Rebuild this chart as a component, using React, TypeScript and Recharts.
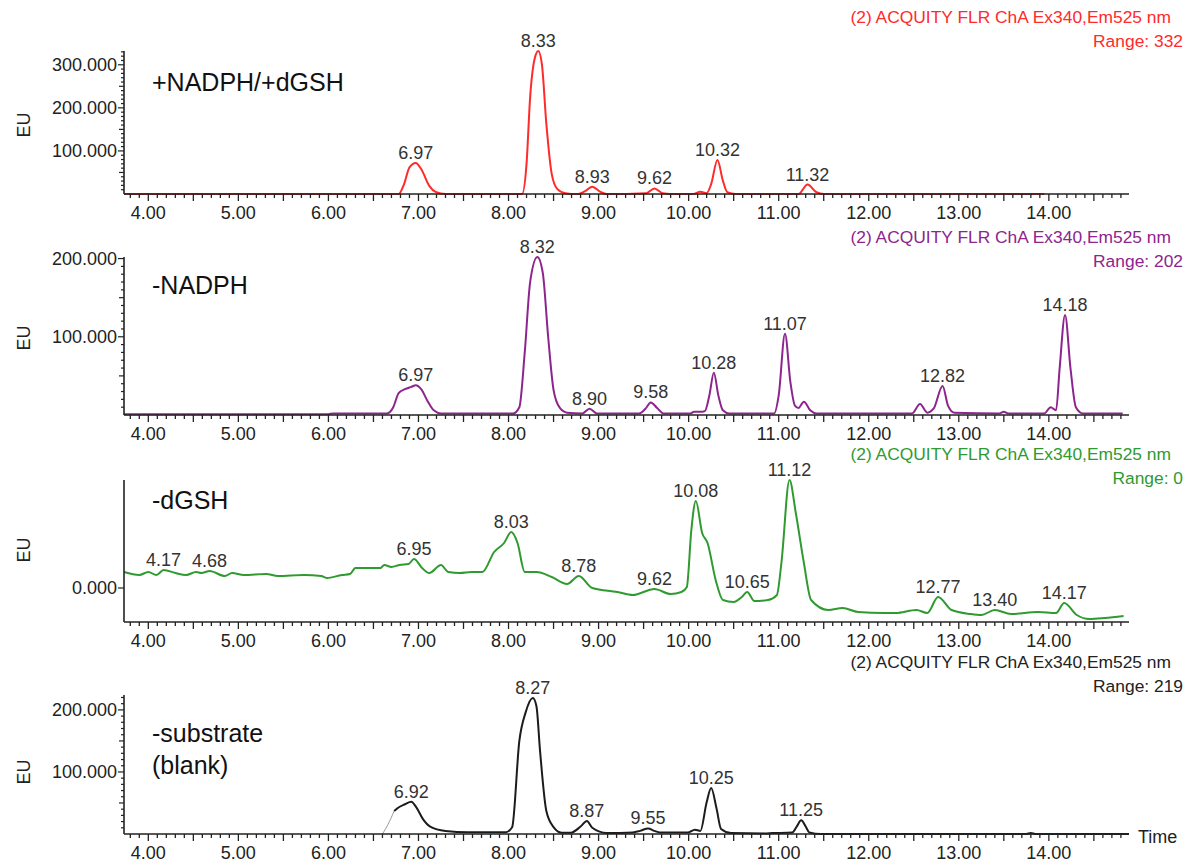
import { LineChart, Line, XAxis, YAxis, LabelList } from 'recharts'

const FONT = '"Liberation Sans", Arial, Helvetica, sans-serif'
const W = 1186
const H = 865

// shared time axis
const xDomain = [3.73, 14.89]
const xMajorTicks = [4, 5, 6, 7, 8, 9, 10, 11, 12, 13, 14]
const xTickLabels = ['4.00', '5.00', '6.00', '7.00', '8.00', '9.00', '10.00', '11.00', '12.00', '13.00', '14.00']

// +NADPH/+dGSH (red)
const redT = [3.73, 6.78, 6.84, 6.9, 6.97, 7.03, 7.12, 7.19, 7.3, 8.15, 8.2, 8.24, 8.29, 8.33, 8.37, 8.42, 8.48, 8.54, 8.63, 8.76, 8.86, 8.93, 9.02, 9.09, 9.53, 9.62, 9.71, 9.86, 10.05, 10.13, 10.2, 10.25, 10.32, 10.38, 10.43, 10.52, 11.22, 11.32, 11.42, 11.5, 13.95]
const redEU = [0, 0, 23, 62, 72, 58, 19, 5, 0, 0, 70, 225, 314, 332, 302, 163, 46, 12, 2, 0, 8, 17, 5, 0, 2, 13, 2, 0, 0, 5, 2, 23, 79, 31, 4, 0, 0, 22, 4, 0, 0]
const redPeaks = [6.97, 8.33, 8.93, 9.62, 10.32, 11.32]

// -NADPH (purple)
const purpleT = [3.73, 6.0, 6.05, 6.65, 6.72, 6.78, 6.85, 6.92, 6.97, 7.03, 7.1, 7.17, 7.25, 8.05, 8.12, 8.18, 8.24, 8.32, 8.38, 8.44, 8.5, 8.57, 8.65, 8.82, 8.9, 8.98, 9.45, 9.52, 9.58, 9.65, 9.72, 10.02, 10.06, 10.13, 10.18, 10.23, 10.28, 10.33, 10.38, 10.45, 10.95, 11.0, 11.07, 11.13, 11.18, 11.22, 11.28, 11.35, 11.42, 12.48, 12.57, 12.65, 12.72, 12.82, 12.88, 12.95, 13.45, 13.5, 13.55, 13.95, 14.02, 14.08, 14.12, 14.18, 14.24, 14.3, 14.38, 14.82]
const purpleEU = [1, 1, 2, 2, 10, 28, 33, 36, 38, 33, 18, 6, 2, 2, 10, 80, 170, 202, 182, 100, 32, 9, 3, 2, 8, 2, 2, 8, 16, 9, 2, 2, 4, 4, 5, 25, 54, 25, 6, 2, 2, 25, 104, 42, 12, 9, 17, 6, 2, 2, 14, 3, 8, 37, 12, 3, 2, 4, 2, 2, 10, 6, 60, 128, 60, 10, 2, 2]
const purplePeaks = [6.97, 8.32, 8.9, 9.58, 10.28, 11.07, 12.82, 14.18]

// -dGSH (green), range 0 -> arbitrary units
const greenT = [3.73, 3.9, 4.0, 4.09, 4.17, 4.3, 4.42, 4.53, 4.59, 4.68, 4.85, 4.93, 5.06, 5.31, 5.44, 5.73, 5.92, 5.98, 6.15, 6.24, 6.3, 6.58, 6.62, 6.7, 6.79, 6.89, 6.95, 7.04, 7.12, 7.25, 7.33, 7.46, 7.59, 7.71, 7.84, 7.95, 8.03, 8.1, 8.18, 8.31, 8.48, 8.65, 8.78, 8.93, 9.21, 9.38, 9.62, 9.8, 9.92, 9.98, 10.03, 10.08, 10.15, 10.21, 10.3, 10.38, 10.5, 10.59, 10.65, 10.73, 10.88, 10.98, 11.03, 11.12, 11.19, 11.28, 11.36, 11.55, 11.71, 11.88, 12.17, 12.3, 12.53, 12.65, 12.77, 12.92, 13.13, 13.25, 13.4, 13.58, 13.88, 14.08, 14.17, 14.31, 14.45, 14.62, 14.83]
const greenEU = [16, 13, 16, 13, 18, 15, 13, 16, 15, 17, 12, 15, 13, 14, 12, 13, 12, 10, 13, 14, 20, 20, 23, 21, 23, 24, 29, 20, 15, 23, 16, 15, 16, 16, 36, 45, 56, 45, 16, 16, 11, 4, 12, 0, -4, -7, -1, -6, -4, 1, 58, 87, 55, 45, 8, -12, -14, -9, -4, -13, -12, -7, 25, 108, 75, 25, -12, -22, -20, -24, -25, -25, -22, -25, -9, -22, -26, -27, -22, -26, -24, -25, -15, -27, -31, -30, -28]
const greenPeaks = [4.17, 4.68, 6.95, 8.03, 8.78, 9.62, 10.08, 10.65, 11.12, 12.77, 13.4, 14.17]

// -substrate (blank), black
const leadT = [6.6, 6.66]
const leadEU = [0, 15]
const blackT = [6.73, 6.77, 6.85, 6.92, 6.98, 7.05, 7.13, 7.3, 7.55, 7.97, 8.04, 8.12, 8.19, 8.27, 8.31, 8.35, 8.42, 8.5, 8.59, 8.69, 8.8, 8.87, 8.93, 9.09, 9.38, 9.46, 9.55, 9.62, 9.68, 9.99, 10.07, 10.13, 10.2, 10.25, 10.31, 10.36, 10.47, 10.84, 10.93, 11.15, 11.2, 11.25, 11.3, 11.34, 11.47, 13.75, 13.8, 13.85, 14.89]
const blackEU = [37, 42, 48, 52, 42, 24, 12, 5, 3, 3, 11, 150, 196, 219, 206, 134, 37, 11, 2, 2, 12, 21, 10, 1.5, 2.5, 5, 9, 5, 2.5, 2.5, 7, 5, 51, 74, 41, 8, 1.5, 1, 1.5, 2.5, 12, 22, 12, 2.5, 0, 0, 1.5, 0, 0]
const blackPeaks = [6.92, 8.27, 8.87, 9.55, 10.25, 11.25]

const yMajorEU = [100, 200, 300]
const yLabelsEU = ['100.000', '200.000', '300.000']

function steps(from: number, to: number, step: number) {
  const out: number[] = []
  for (let k = Math.round(from / step); k * step <= to + 1e-9; k++) out.push(+(k * step).toFixed(3))
  return out
}

const xTicks = steps(3.8, 14.8, 0.1)

const near = (a: number, b: number) => Math.abs(a - b) < 1e-6

function makeRows(ts: number[], vs: number[], peaks: number[]) {
  return ts.map((t, i) => ({
    t,
    v: vs[i],
    peak: peaks.some(p => near(p, t)) ? t.toFixed(2) : undefined,
  }))
}

const blackRows = [
  ...leadT.map((t, i) => ({ t, lead: leadEU[i] } as any)),
  ...makeRows(blackT, blackEU, blackPeaks).map((r, i) => ({ ...r, lead: i === 0 ? r.v : undefined })),
]

const XTick = (props: any) => {
  const { x, y, payload } = props
  const v = payload.value
  const major = near(v, Math.round(v))
  const half = near(v * 2, Math.round(v * 2))
  const idx = xMajorTicks.findIndex(m => near(m, v))
  return (
    <g>
      <line x1={x} x2={x} y1={y} y2={y + (half ? 7 : 4)} stroke="#222" strokeWidth={1.3} />
      {major && idx >= 0 && (
        <text x={x} y={y + 25} textAnchor="middle" fontSize={18} fill="#222" fontFamily={FONT}>
          {xTickLabels[idx]}
        </text>
      )}
    </g>
  )
}

const makeYTick = (majors: number[], labels: string[]) => (props: any) => {
  const { x, y, payload } = props
  const v = payload.value
  const idx = majors.findIndex(m => near(m, v))
  const len = idx >= 0 ? 6 : near(v % 50, 0) ? 5 : 3
  return (
    <g>
      <line x1={x - len} x2={x} y1={y} y2={y} stroke="#222" strokeWidth={1.2} />
      {idx >= 0 && (
        <text x={x - 7} y={y + 6} textAnchor="end" fontSize={18} fill="#222" fontFamily={FONT}>
          {labels[idx]}
        </text>
      )}
    </g>
  )
}

const PeakLabel = (props: any) => {
  const { x, y, value } = props
  if (!value) return null
  return (
    <text x={x} y={y - 4} textAnchor="middle" fontSize={18} fill="#333" fontFamily={FONT}>
      {value}
    </text>
  )
}

type PanelProps = {
  rows: any[]
  color: string
  plotTop: number
  plotBottom: number
  yDomain: [number, number]
  yTicks: number[]
  yMajor: number[]
  yLabels: string[]
  withLead?: boolean
}

function Panel({ rows, color, plotTop, plotBottom, yDomain, yTicks, yMajor, yLabels, withLead }: PanelProps) {
  return (
    <div style={{ position: 'absolute', left: 0, top: 0 }}>
      <LineChart width={W} height={H} data={rows} margin={{ top: plotTop, right: 57, bottom: H - plotBottom - 30, left: 0 }}>
        <XAxis
          dataKey="t"
          type="number"
          domain={xDomain}
          ticks={xTicks}
          interval={0}
          height={30}
          tickSize={0}
          tickMargin={0}
          tickLine={false}
          tick={<XTick />}
          axisLine={{ stroke: '#222', strokeWidth: 1.6 }}
        />
        <YAxis
          type="number"
          domain={yDomain}
          ticks={yTicks}
          interval={0}
          width={124}
          tickSize={0}
          tickMargin={0}
          tickLine={false}
          tick={makeYTick(yMajor, yLabels)}
          axisLine={{ stroke: '#222', strokeWidth: 1.6 }}
        />
        {withLead && (
          <Line dataKey="lead" type="monotone" stroke="#999" strokeWidth={1} dot={false} isAnimationActive={false} />
        )}
        <Line dataKey="v" type="monotone" stroke={color} strokeWidth={2} dot={false} isAnimationActive={false} connectNulls={false}>
          <LabelList dataKey="peak" content={PeakLabel} />
        </Line>
      </LineChart>
    </div>
  )
}

const RED = '#ff2a2a'
const PURPLE = '#8e248e'
const GREEN = '#2f9a2f'
const BLACK = '#1c1c1c'

const headers = [
  { color: RED, y: 23, range: 'Range: 332' },
  { color: PURPLE, y: 243, range: 'Range: 202' },
  { color: GREEN, y: 460, range: 'Range: 0' },
  { color: '#222', y: 668, range: 'Range: 219' },
]

export default function App() {
  return (
    <div style={{ position: 'absolute', left: 0, top: 0, width: W, height: H, background: '#fff', fontFamily: FONT }}>
      <Panel rows={makeRows(redT, redEU, redPeaks)} color={RED} plotTop={51} plotBottom={194} yDomain={[0, 332]} yTicks={steps(10, 330, 10)} yMajor={yMajorEU} yLabels={yLabelsEU} />
      <Panel rows={makeRows(purpleT, purpleEU, purplePeaks)} color={PURPLE} plotTop={257} plotBottom={415} yDomain={[0, 202]} yTicks={steps(10, 200, 10)} yMajor={yMajorEU} yLabels={yLabelsEU} />
      <Panel rows={makeRows(greenT, greenEU, greenPeaks)} color={GREEN} plotTop={480} plotBottom={622} yDomain={[-34, 108]} yTicks={[0]} yMajor={[0]} yLabels={['0.000']} />
      <Panel rows={blackRows} color={BLACK} plotTop={695} plotBottom={834} yDomain={[0, 224]} yTicks={steps(10, 220, 10)} yMajor={yMajorEU} yLabels={yLabelsEU} withLead />
      <svg width={W} height={H} style={{ position: 'absolute', left: 0, top: 0, pointerEvents: 'none' }} fontFamily={FONT}>
        {headers.map(h => (
          <g key={h.y} fill={h.color} fontSize={17.4} textAnchor="end">
            <text x={1171} y={h.y}>(2) ACQUITY FLR ChA Ex340,Em525 nm</text>
            <text x={1183} y={h.y + 24}>{h.range}</text>
          </g>
        ))}
        <g fontSize={25} fill="#111">
          <text x={152} y={91}>+NADPH/+dGSH</text>
          <text x={152} y={294}>-NADPH</text>
          <text x={152} y={509}>-dGSH</text>
          <text x={152} y={742}>-substrate</text>
          <text x={152} y={774}>(blank)</text>
        </g>
        <g fontSize={18} fill="#222" textAnchor="middle">
          <text transform="translate(30,125) rotate(-90)">EU</text>
          <text transform="translate(30,338) rotate(-90)">EU</text>
          <text transform="translate(30,550) rotate(-90)">EU</text>
          <text transform="translate(30,772) rotate(-90)">EU</text>
        </g>
        <text x={1138} y={843} fontSize={18} fill="#222">Time</text>
      </svg>
    </div>
  )
}
